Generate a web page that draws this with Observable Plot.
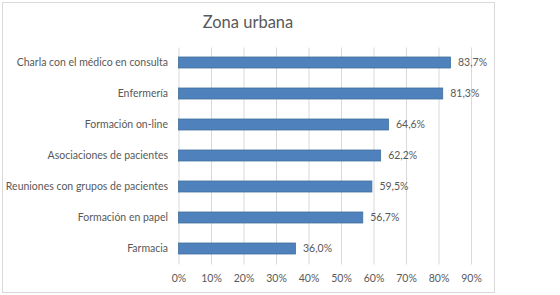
<!DOCTYPE html>
<html>
<head>
<meta charset="utf-8">
<script src="https://cdn.jsdelivr.net/npm/d3@7"></script>
<script src="https://cdn.jsdelivr.net/npm/@observablehq/plot@0.6"></script>
<style>
  html, body { margin: 0; padding: 0; background: #fff; }
  #wrap { position: relative; width: 560px; height: 295px; overflow: hidden; font-family: Lato, "Open Sans", sans-serif; }
  #frame { position: absolute; left: 2px; top: 2px; width: 491px; height: 289px; border: 1px solid #d9d9d9; box-sizing: content-box; }
  #title { position: absolute; left: 0; width: 496px; top: 12px; text-align: center; font-size: 16.5px; color: #595959; font-weight: 400; line-height: 20px; }
  #chart { position: absolute; left: 0; top: 0; }
</style>
</head>
<body>
<div id="wrap">
  <div id="frame"></div>
  <div id="chart"></div>
  <div id="title">Zona urbana</div>
</div>
<script>
const categories = [
  "Charla con el médico en consulta",
  "Enfermería",
  "Formación on-line",
  "Asociaciones de pacientes",
  "Reuniones con grupos de pacientes",
  "Formación en papel",
  "Farmacia"
];
const values = [83.7, 81.3, 64.6, 62.2, 59.5, 56.7, 36.0];
const xTicks = [0, 10, 20, 30, 40, 50, 60, 70, 80, 90];

const data = categories.map((c, i) => ({category: c, value: values[i]}));
const fmt = v => v.toFixed(1).replace(".", ",") + "%";

const chart = Plot.plot({
  width: 560,
  height: 295,
  marginLeft: 178.5,
  marginRight: 89,
  marginTop: 47.5,
  marginBottom: 30.5,
  style: { fontFamily: "Lato, 'Open Sans', sans-serif", fontSize: "10.5px", color: "#595959", background: "transparent" },
  x: { domain: [0, 90], ticks: xTicks, tickFormat: d => d + "%", tickSize: 0, tickPadding: 10, label: null },
  y: { domain: categories, paddingInner: 0.64, paddingOuter: 0.32, tickSize: 0, tickPadding: 11, label: null },
  marks: [
    Plot.gridX(xTicks, { stroke: "#d9d9d9", strokeOpacity: 1, strokeWidth: 1 }),
    Plot.barX(data, { x: "value", y: "category", fill: "#4f81bd", stroke: "#41719c", strokeWidth: 0.8 }),
    Plot.text(data, { x: "value", y: "category", text: d => fmt(d.value), textAnchor: "start", dx: 7, fill: "#595959", fontSize: 10.5 })
  ]
});
document.getElementById("chart").appendChild(chart);
</script>
</body>
</html>
